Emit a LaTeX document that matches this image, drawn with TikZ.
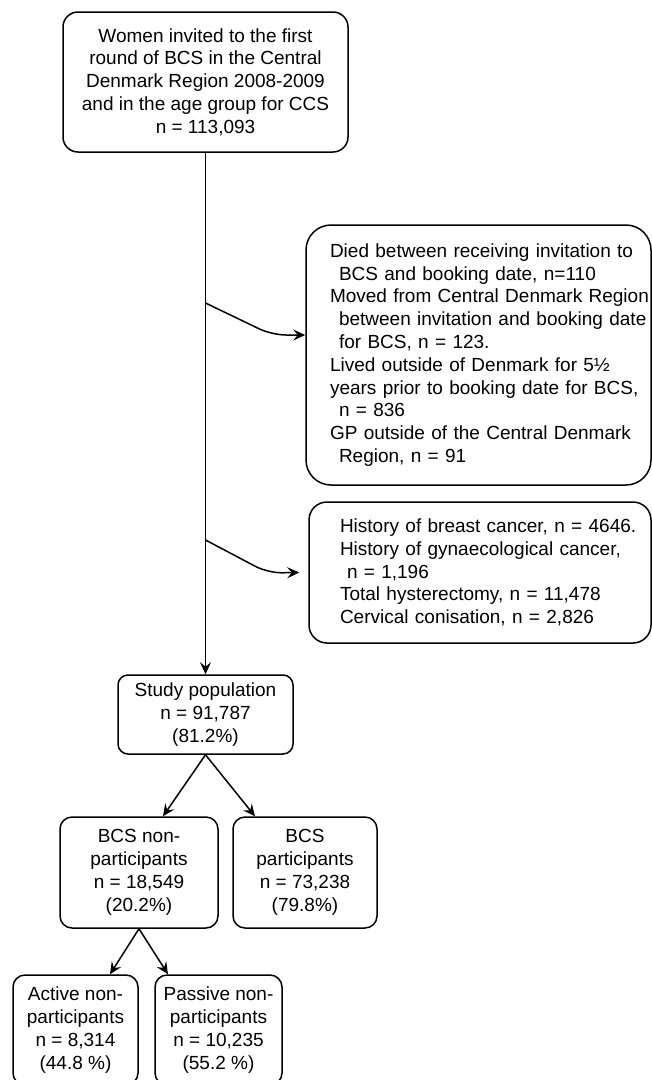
\documentclass[tikz,border=0pt]{standalone}
\usepackage{fontspec}
\setmainfont{Liberation Sans}
\usetikzlibrary{arrows.meta}
\begin{document}
\begin{tikzpicture}[x=1pt,y=-1pt,
  box/.style={draw, line width=1.5pt, align=center, inner sep=0pt,
    font=\fontsize{19}{22.8}\selectfont},
  arr/.style={draw, line width=1.5pt, -{Stealth[length=12pt,width=11pt,inset=4.5pt]}}]
\useasboundingbox (0,0) rectangle (652,1080);
\clip (0,0) rectangle (652,1080);
\fill[white] (0,0) rectangle (652,1080);

\node[box, rounded corners=15pt, minimum width=285pt, minimum height=140pt] (top) at (205.5,82)
  {Women invited to the first\\round of BCS in the Central\\Denmark Region 2008-2009\\and in the age group for CCS\\n = 113,093};

\node[box, rounded corners=25pt, minimum height=260pt, text width=297pt, align=left, inner xsep=24pt] (ex1) at (478.5,355)
  {\mbox{Died between receiving invitation to}\\
   \mbox{\hspace*{9pt}BCS and booking date, n=110}\\
   \mbox{Moved from Central Denmark Region}\\
   \mbox{\hspace*{9pt}between invitation and booking date}\\
   \mbox{\hspace*{9pt}for BCS, n = 123.}\\
   \mbox{Lived outside of Denmark for 5½}\\
   \mbox{years prior to booking date for BCS,}\\
   \mbox{\hspace*{9pt}n = 836}\\
   \mbox{GP outside of the Central Denmark}\\
   \mbox{\hspace*{9pt}Region, n = 91}};

\node[box, rounded corners=18pt, minimum height=141pt, text width=280pt, align=left, inner xsep=31pt] (ex2) at (480,572.5)
  {\mbox{History of breast cancer, n = 4646.}\\
   \mbox{History of gynaecological cancer,}\\
   \mbox{\hspace*{7pt}n = 1,196}\\
   \mbox{Total hysterectomy, n = 11,478}\\
   \mbox{Cervical conisation, n = 2,826}};

\node[box, rounded corners=10pt, minimum width=175pt, minimum height=79pt] (study) at (205.5,714.5)
  {Study population\\n = 91,787\\(81.2\%)};

\node[box, rounded corners=12pt, minimum width=158pt, minimum height=111pt] (nonp) at (139,872.5)
  {BCS non-\\participants\\n = 18,549\\(20.2\%)};

\node[box, rounded corners=12pt, minimum width=144pt, minimum height=111pt] (part) at (305,872.5)
  {BCS\\participants\\n = 73,238\\(79.8\%)};

\node[box, rounded corners=12pt, minimum width=125pt, minimum height=110pt] (act) at (75.5,1030)
  {Active non-\\participants\\n = 8,314\\(44.8 \%)};

\node[box, rounded corners=12pt, minimum width=127pt, minimum height=110pt] (pas) at (218.5,1030)
  {Passive non-\\participants\\n = 10,235\\(55.2 \%)};

\coordinate (b1) at (205.5,303);
\coordinate (b2) at (205.5,540);
\coordinate (k1) at (272,335);
\coordinate (k2) at (268,573);

\draw[arr] (top.south) -- (study.north);
\draw[arr, rounded corners=14pt] (b1) -- (k1) -- ([yshift=20pt]ex1.west);
\draw[arr, rounded corners=14pt] (b2) -- (k2) -- ([xshift=-9pt]ex2.west);
\draw[arr] (study.south) -- ([xshift=24pt]nonp.north);
\draw[arr] (study.south) -- ([xshift=-50pt]part.north);
\draw[arr] (nonp.south) -- ([xshift=34.5pt]act.north);
\draw[arr] (nonp.south) -- ([xshift=-50.5pt]pas.north);
\end{tikzpicture}
\end{document}
